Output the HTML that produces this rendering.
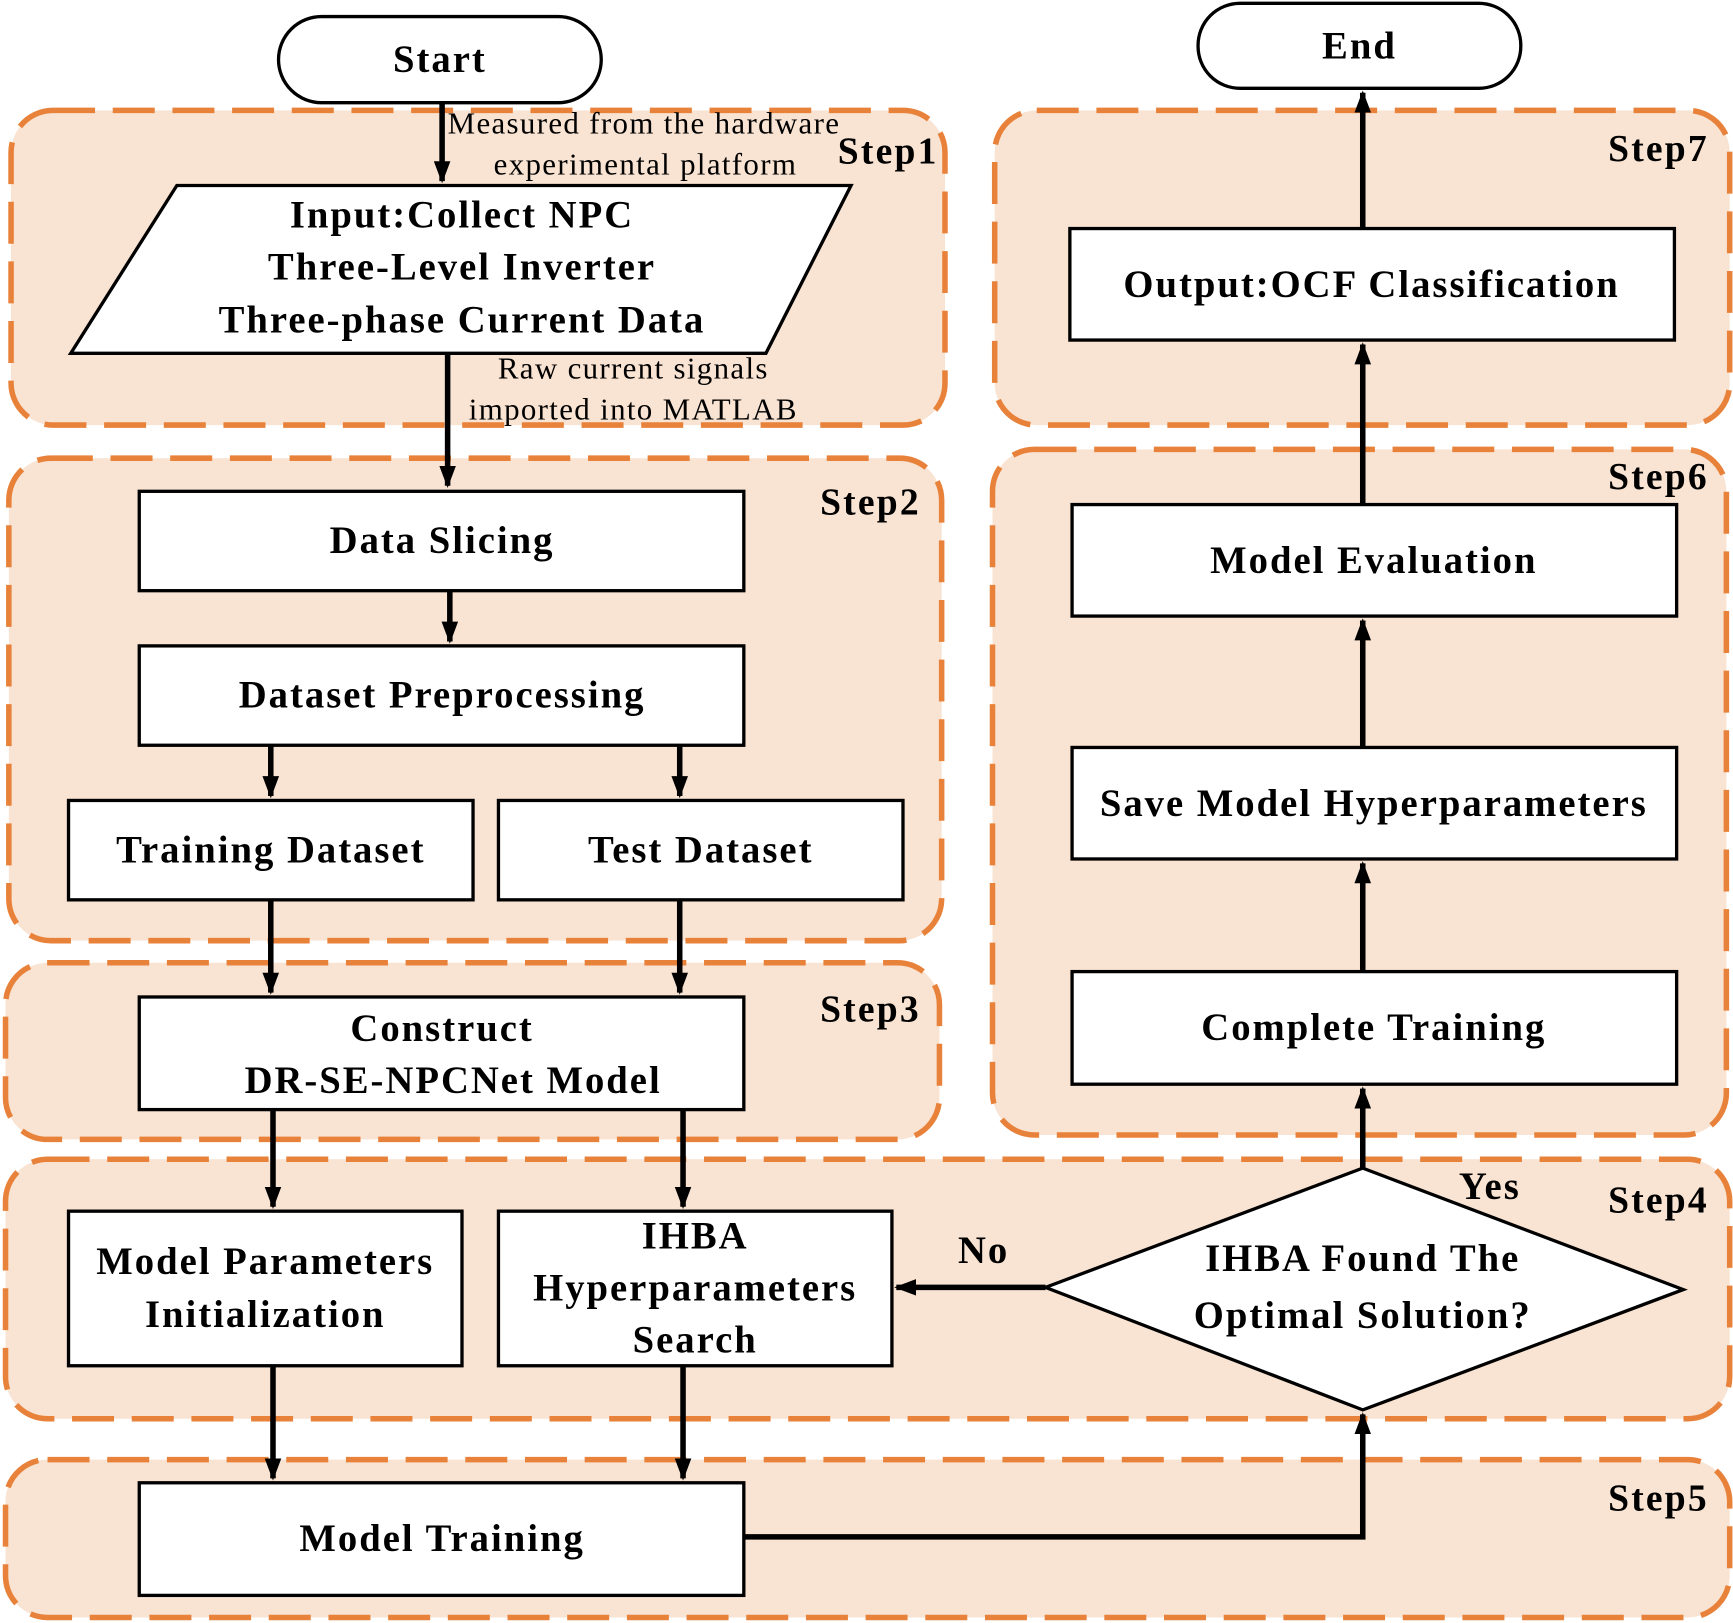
<!DOCTYPE html>
<html><head><meta charset="utf-8"><style>html,body{margin:0;padding:0;background:#fff}svg{display:block}</style></head>
<body>
<svg width="1733" height="1623" viewBox="0 0 1568 1470" preserveAspectRatio="none" xmlns="http://www.w3.org/2000/svg" font-family="Liberation Serif, serif">
<defs><marker id="a" markerWidth="4" markerHeight="3" refX="3.6" refY="1.5" orient="auto" markerUnits="strokeWidth"><path d="M0,0 L4,1.5 L0,3 Z" fill="#000"/></marker></defs>
<g fill="#f9e3d2" stroke="#e8823a" stroke-width="5" stroke-dasharray="38 16">
<rect x="10" y="100" width="845" height="285" rx="38"/>
<rect x="8" y="415" width="844" height="437" rx="38"/>
<rect x="5" y="872" width="845" height="160" rx="38"/>
<rect x="5" y="1050" width="1560" height="235" rx="38"/>
<rect x="5" y="1322" width="1560" height="143" rx="38"/>
<rect x="898" y="407" width="664" height="621" rx="38"/>
<rect x="900" y="100" width="665" height="285" rx="38"/>
</g>
<g font-weight="bold" font-size="34" fill="#000" letter-spacing="2">
<text x="758" y="148">Step1</text><text x="742" y="466">Step2</text><text x="742" y="925">Step3</text>
<text x="1455" y="1098">Step4</text><text x="1455" y="1368">Step5</text><text x="1455" y="443">Step6</text><text x="1455" y="146">Step7</text>
</g>
<g fill="#fff" stroke="#000" stroke-width="3">
<rect x="252" y="15" width="292" height="78" rx="39"/>
<rect x="1084" y="3" width="292" height="77" rx="38"/>
<polygon points="160,168 770,168 693,320 64,320"/>
<rect x="126" y="445" width="547" height="90"/>
<rect x="126" y="585" width="547" height="90"/>
<rect x="62" y="725" width="366" height="90"/>
<rect x="451" y="725" width="366" height="90"/>
<rect x="126" y="903" width="547" height="102"/>
<rect x="62" y="1097" width="356" height="140"/>
<rect x="451" y="1097" width="356" height="140"/>
<rect x="126" y="1343" width="547" height="102"/>
<polygon points="1233,1058 1523,1168 1233,1277 946,1166"/>
<rect x="970" y="880" width="547" height="102"/>
<rect x="970" y="677" width="547" height="101"/>
<rect x="970" y="457" width="547" height="101"/>
<rect x="968" y="207" width="547" height="101"/>
</g>
<g stroke="#000" stroke-width="5" fill="none" marker-end="url(#a)">
<line x1="400" y1="93" x2="400" y2="164"/>
<line x1="405" y1="320" x2="405" y2="440"/>
<line x1="407" y1="535" x2="407" y2="581"/>
<line x1="245" y1="675" x2="245" y2="721"/>
<line x1="615" y1="675" x2="615" y2="721"/>
<line x1="245" y1="815" x2="245" y2="899"/>
<line x1="615" y1="815" x2="615" y2="899"/>
<line x1="247" y1="1005" x2="247" y2="1093"/>
<line x1="618" y1="1005" x2="618" y2="1093"/>
<line x1="247" y1="1237" x2="247" y2="1339"/>
<line x1="618" y1="1237" x2="618" y2="1339"/>
<polyline points="673,1392 1233,1392 1233,1281"/>
<line x1="946" y1="1166" x2="811" y2="1166"/>
<line x1="1233" y1="1058" x2="1233" y2="986"/>
<line x1="1233" y1="880" x2="1233" y2="782"/>
<line x1="1233" y1="677" x2="1233" y2="562"/>
<line x1="1233" y1="457" x2="1233" y2="312"/>
<line x1="1233" y1="207" x2="1233" y2="84"/>
</g>
<g font-size="28" fill="#000" letter-spacing="1.2">
<text x="405" y="121">Measured from the hardware</text>
<text x="584" y="158" text-anchor="middle">experimental platform</text>
<text x="573" y="343" text-anchor="middle">Raw current signals</text>
<text x="573" y="380" text-anchor="middle">imported into MATLAB</text>
</g>
<g font-weight="bold" font-size="35" fill="#000" text-anchor="middle" letter-spacing="1.8">
<text x="398" y="65">Start</text>
<text x="1230" y="53">End</text>
<text x="418" y="206">Input:Collect NPC</text>
<text x="418" y="253">Three-Level Inverter</text>
<text x="418" y="301">Three-phase Current Data</text>
<text x="400" y="501">Data Slicing</text>
<text x="400" y="641">Dataset Preprocessing</text>
<text x="245" y="781">Training Dataset</text>
<text x="634" y="781">Test Dataset</text>
<text x="400" y="943">Construct</text>
<text x="410" y="990">DR-SE-NPCNet Model</text>
<text x="240" y="1154">Model Parameters</text>
<text x="240" y="1202">Initialization</text>
<text x="629" y="1131">IHBA</text>
<text x="629" y="1178">Hyperparameters</text>
<text x="629" y="1225">Search</text>
<text x="400" y="1405">Model Training</text>
<text x="1233" y="1151">IHBA Found The</text>
<text x="1233" y="1203">Optimal Solution?</text>
<text x="890" y="1144">No</text>
<text x="1348" y="1086">Yes</text>
<text x="1243" y="942">Complete Training</text>
<text x="1243" y="739">Save Model Hyperparameters</text>
<text x="1243" y="519">Model Evaluation</text>
<text x="1241" y="269">Output:OCF Classification</text>
</g>
</svg>
</body></html>
